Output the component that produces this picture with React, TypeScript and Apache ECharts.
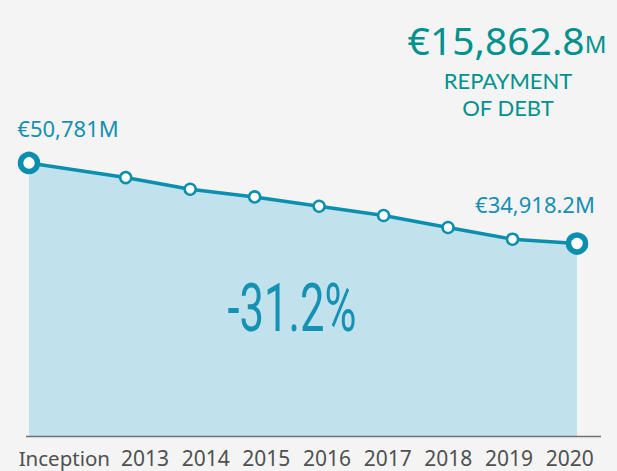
import React, { useEffect, useRef } from "react";
import * as echarts from "echarts";

// Data
const categories = ["Inception", "2013", "2014", "2015", "2016", "2017", "2018", "2019", "2020"];
// timeline position (years); inception estimated mid-2011
const timeline = [2011.5, 2013, 2014, 2015, 2016, 2017, 2018, 2019, 2020];
const outstandingDebt = [50781, 47900, 45600, 44090, 42260, 40430, 38070, 35770, 34918.2];

const LINE = "#0b8fae";
const FILL = "#c1e2ec";
const TEAL = "#00918e";

function fmt(v: number): string {
  return v.toLocaleString("en-US", { maximumFractionDigits: 1 });
}

export default function App() {
  const ref = useRef<HTMLDivElement>(null);

  useEffect(() => {
    if (!ref.current) return;
    const chart = echarts.init(ref.current, null, { renderer: "svg" });
    const first = outstandingDebt[0];
    const last = outstandingDebt[outstandingDebt.length - 1];
    const repayment = first - last;
    const pct = ((last - first) / first) * 100;
    const n = outstandingDebt.length;

    const lineData = outstandingDebt.map((v, i) => {
      const isEnd = i === 0 || i === n - 1;
      const item: any = {
        value: [timeline[i], v],
        symbolSize: isEnd ? 17 : 11,
        itemStyle: { color: "#ffffff", borderColor: LINE, borderWidth: isEnd ? 5.5 : 2.5 },
      };
      if (isEnd) {
        item.label = {
          show: true,
          position: "top",
          formatter: () => `€${fmt(v)}M`,
          color: "#168fb0",
          fontFamily: "Noto Sans",
          fontSize: 22,
          offset: i === 0 ? [39, -8] : [-42, -12],
        };
      }
      return item;
    });

    chart.setOption({
      animation: false,
      backgroundColor: "#f4f4f4",
      grid: [
        { left: 29, right: 40, top: 96, bottom: 34 },
        { left: 54, right: 17, top: 436, height: 1 },
      ],
      xAxis: [
        { type: "value", gridIndex: 0, min: 2011.5, max: 2020, show: false },
        {
          type: "category",
          gridIndex: 1,
          data: categories,
          boundaryGap: true,
          axisLine: { show: false },
          axisTick: { show: false },
          splitLine: { show: false },
          axisLabel: {
            interval: 0,
            margin: 10,
            formatter: (v: string) => (v === "Inception" ? `{inc|${v}}` : `{yr|${v}}`),
            rich: {
              inc: { fontFamily: "Noto Sans", fontSize: 20.5, lineHeight: 22, color: "#505050", padding: [0, 40, 0, 0] },
              yr: { fontFamily: "Noto Sans", fontSize: 21, lineHeight: 22, color: "#505050" },
            },
          },
        },
      ],
      yAxis: [
        { type: "value", gridIndex: 0, min: -3150, max: 63950, show: false },
        { type: "value", gridIndex: 1, show: false },
      ],
      series: [
        {
          type: "line",
          xAxisIndex: 0,
          yAxisIndex: 0,
          data: lineData,
          symbol: "circle",
          lineStyle: { color: LINE, width: 3.5 },
          areaStyle: { color: FILL, opacity: 1, origin: "start" },
          z: 3,
        },
      ],
      graphic: [
        {
          type: "line",
          shape: { x1: 26, y1: 436.5, x2: 601, y2: 436.5 },
          style: { stroke: "#707070", lineWidth: 1.5 },
          z: 10,
        },
        {
          type: "text",
          x: 507,
          y: 39,
          style: {
            text: `{a|€${fmt(repayment)}}{b|M}`,
            align: "center",
            verticalAlign: "middle",
            rich: {
              a: { fontFamily: "Noto Sans", fontSize: 39, lineHeight: 40, fill: TEAL },
              b: { fontFamily: "Noto Sans", fontSize: 24, lineHeight: 24, fill: TEAL, padding: [8, 0, 0, 0] },
            },
          },
        },
        {
          type: "text",
          x: 508,
          y: 80,
          style: {
            text: "REPAYMENT",
            align: "center",
            verticalAlign: "middle",
            fontFamily: "Lato",
            fontSize: 22,
            lineHeight: 24,
            fill: TEAL,
          },
        },
        {
          type: "text",
          x: 508,
          y: 107,
          style: {
            text: "OF DEBT",
            align: "center",
            verticalAlign: "middle",
            fontFamily: "Lato",
            fontSize: 22,
            lineHeight: 24,
            fill: TEAL,
          },
        },
        {
          type: "text",
          x: 292,
          y: 309,
          scaleX: 0.66,
          style: {
            text: `${pct.toFixed(1)}%`,
            align: "center",
            verticalAlign: "middle",
            fontFamily: "Roboto",
            fontWeight: 400,
            fontSize: 66,
            fill: "#1592b3",
          },
          z: 10,
        },
      ],
    });
    return () => chart.dispose();
  }, []);

  return (
    <div
      ref={ref}
      style={{ position: "fixed", left: 0, top: 0, width: 617, height: 471 }}
    />
  );
}
